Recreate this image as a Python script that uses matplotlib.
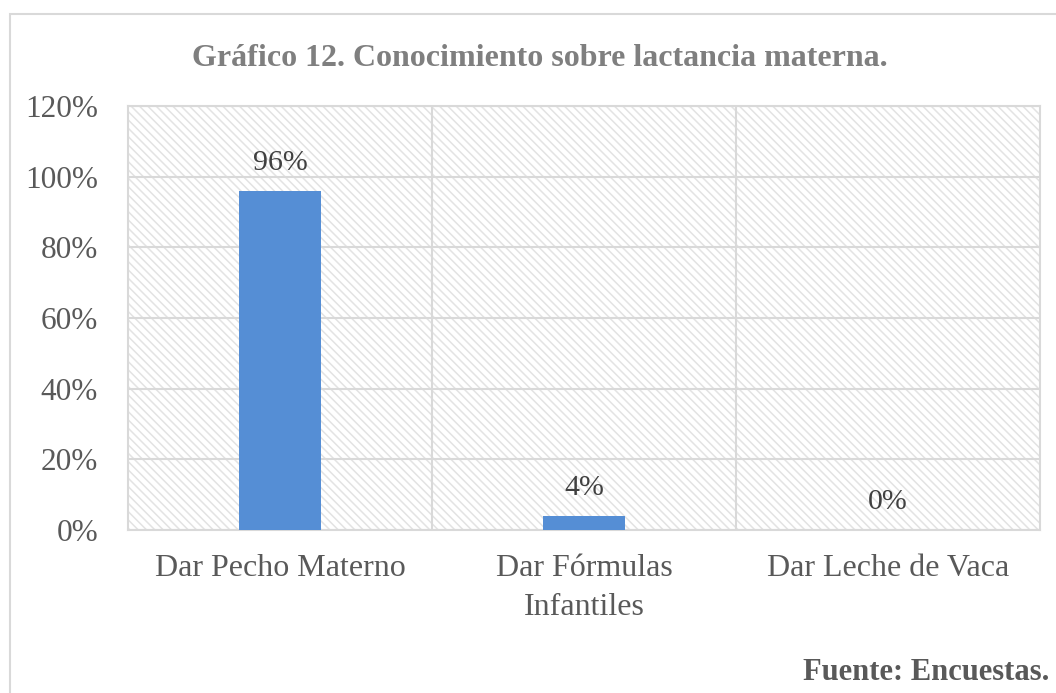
import matplotlib.pyplot as plt
import matplotlib.patches as mpatches
from matplotlib.ticker import FuncFormatter

categories = ['Dar Pecho Materno', 'Dar Fórmulas\nInfantiles', 'Dar Leche de Vaca']
values = [0.96, 0.04, 0.0]
labels = ['96%', '4%', '0%']
yticks = [0, 0.2, 0.4, 0.6, 0.8, 1.0, 1.2]

plt.rcParams['font.family'] = ['Liberation Serif', 'DejaVu Serif']
plt.rcParams['hatch.linewidth'] = 1.1
plt.rcParams['hatch.color'] = '#e3e3e3'

fig = plt.figure(figsize=(10.56, 6.93), dpi=100)

# outer chart border (cut off at right/bottom like the reference)
fig.patches.append(mpatches.Rectangle((10 / 1056, -0.05), 1.2, 1 - 14 / 693 + 0.05,
                                      transform=fig.transFigure, fill=False,
                                      edgecolor='#d9d9d9', linewidth=1.5))

ax = fig.add_axes([128 / 1056, 1 - 530 / 693, (1040 - 128) / 1056, (530 - 106) / 693])
ax.set_facecolor('white')
ax.add_patch(mpatches.Rectangle((0, 0), 1, 1, transform=ax.transAxes, facecolor='white',
                                edgecolor='#e3e3e3', hatch='\\\\\\\\', linewidth=0, zorder=0))

x = range(len(categories))
ax.bar(x, values, width=0.27, color='#558ed5', zorder=3)
for xi, v, lab in zip(x, values, labels):
    ax.annotate(lab, (xi, v), xytext=(0, 11), textcoords='offset points', ha='center',
                va='bottom', fontsize=21.5, color='#404040', zorder=4)

ax.set_xlim(-0.5, 2.5)
ax.set_ylim(0, 1.2)
ax.set_yticks(yticks)
ax.yaxis.set_major_formatter(FuncFormatter(lambda v, p: f'{v * 100:.0f}%'))
ax.set_xticks(list(x))
ax.set_xticklabels(categories, linespacing=1.45)
ax.tick_params(axis='x', length=0, labelsize=23, labelcolor='#595959', pad=17)
ax.tick_params(axis='y', length=0, labelsize=22.5, labelcolor='#595959', pad=30 * 72 / 100)

ax.grid(axis='y', color='#d9d9d9', linewidth=1.5, zorder=1)
for b in [0.5, 1.5]:
    ax.axvline(b, color='#d9d9d9', linewidth=1.5, zorder=1)
for s in ['top', 'right', 'left', 'bottom']:
    ax.spines[s].set_color('#d9d9d9')
    ax.spines[s].set_linewidth(1.5)

fig.text(540 / 1056, 1 - 58 / 693, 'Gráfico 12. Conocimiento sobre lactancia materna.',
         ha='center', va='center', fontsize=23, fontweight='bold', color='#7f7f7f')
fig.text(1049 / 1056, 1 - 672 / 693, 'Fuente: Encuestas.', ha='right', va='center',
         fontsize=22, fontweight='bold', color='#595959')

fig.savefig('out.png', dpi=100)
